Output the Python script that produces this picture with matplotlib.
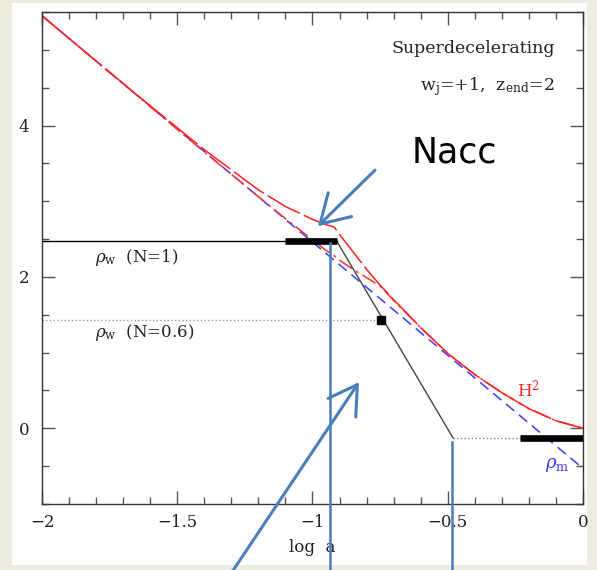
import matplotlib
matplotlib.use('Agg')
import matplotlib.pyplot as plt
from matplotlib.patches import Rectangle
from matplotlib.ticker import MultipleLocator

# H^2 for the two cases, sampled along log a
log_a = [-2.0, -1.8, -1.6, -1.4, -1.2, -1.1, -1.0, -0.95, -0.92, -0.9, -0.85,
         -0.8, -0.75, -0.7, -0.6, -0.5, -0.4, -0.3, -0.2, -0.1, 0.0]
h2_n1 = [5.45, 4.85, 4.26, 3.68, 3.15, 2.93, 2.76, 2.69, 2.66, 2.56, 2.33,
         2.10, 1.89, 1.70, 1.33, 0.99, 0.71, 0.47, 0.26, 0.10, 0.00]
h2_n06 = [5.45, 4.85, 4.25, 3.65, 3.06, 2.77, 2.49, 2.35, 2.28, 2.22, 2.10,
          1.99, 1.88, 1.69, 1.33, 0.99, 0.71, 0.47, 0.26, 0.10, 0.00]

# matter density
rho_m_x = [-2.0, 0.0]
rho_m_y = [5.45, -0.53]

# rho_w for N=1: flat, steep w=+1 decay, then flat again
rho_w1_x = [-2.0, -0.91, -0.48]
rho_w1_y = [2.47, 2.47, -0.13]
rho_w_late_x = [-0.48, 0.0]
rho_w_late_y = [-0.13, -0.13]

# rho_w for N=0.6
rho_w06_x = [-2.0, -0.745]
rho_w06_y = [1.43, 1.43]
nacc_06 = (-0.745, 1.43)

# thick bars
bar_early_x = [-1.10, -0.91]
bar_early_y = [2.47, 2.47]
bar_late_x = [-0.233, 0.0]
bar_late_y = [-0.13, -0.13]

# overlay markers
vline_x = [-0.935, -0.484]
vline_top = [2.45, -0.18]
vline_bottom = -1.9
arrow_nacc = ((-0.98, 2.67), (-0.769, 3.41))   # (head, tail)
arrow_low = ((-0.828, 0.61), (-1.298, -1.9))

plt.rcParams['mathtext.fontset'] = 'dejavuserif'
serif = 'DejaVu Serif'
ann_blue = '#4A7EBB'

fig = plt.figure(figsize=(5.97, 5.70), dpi=100, facecolor='#EEEBE1')
fig.patches.append(Rectangle((0.0201, 0.0088), 0.9632, 0.9860,
                             transform=fig.transFigure, facecolor='white',
                             edgecolor='none', zorder=-5))
ax = fig.add_axes([0.0704, 0.1158, 0.9061, 0.8632])
ax.set_zorder(1)

ax.plot(rho_m_x, rho_m_y, color='#3B3BFF', lw=1.1, dashes=(7, 4))
ax.plot(log_a, h2_n06, color='#FF3030', lw=1.1, dashes=(10, 3, 2, 3))
ax.plot(log_a, h2_n1, color='#FF2020', lw=1.1, dashes=(24, 3))

ax.plot(rho_w1_x[:2], rho_w1_y[:2], color='black', lw=1.0)
ax.plot(rho_w1_x[1:], rho_w1_y[1:], color='#444444', lw=1.0)
ax.plot(rho_w_late_x, rho_w_late_y, color='#888888', lw=1.0, ls=':')
ax.plot(rho_w06_x, rho_w06_y, color='#999999', lw=1.0, ls=':')
ax.plot(*nacc_06, marker='s', color='black', ms=5.5)

ax.plot(bar_early_x, bar_early_y, color='black', lw=4.8, solid_capstyle='butt')
ax.plot(bar_late_x, bar_late_y, color='black', lw=4.8, solid_capstyle='butt')

# labels inside the panel
ax.text(-0.104, 5.02, 'Superdecelerating', ha='right', va='center',
        family=serif, fontsize=12.5, color='#222222')
ax.text(-0.104, 4.51, r'w$_{\rm j}$=+1,  z$_{\rm end}$=2', ha='right',
        va='center', family=serif, fontsize=12.5, color='#222222')
ax.text(-1.804, 2.26, r'$\rho_{\rm w}$  (N=1)', ha='left', va='center',
        family=serif, fontsize=12, color='#222222')
ax.text(-1.804, 1.26, r'$\rho_{\rm w}$  (N=0.6)', ha='left', va='center',
        family=serif, fontsize=12, color='#222222')
ax.text(-0.244, 0.51, r'H$^2$', ha='left', va='center', family=serif,
        fontsize=12, color='#FF2020')
ax.text(-0.14, -0.48, r'$\rho_{\rm m}$', ha='left', va='center',
        family=serif, fontsize=13, color='#3B3BFF')

# overlay annotation
ax.text(-0.632, 3.65, 'Nacc', ha='left', va='center', family='DejaVu Sans',
        fontsize=25, color='black')
for x, top in zip(vline_x, vline_top):
    ax.plot([x, x], [top, vline_bottom], color=ann_blue, lw=1.8,
            clip_on=False, zorder=5)
for head, tail in (arrow_nacc, arrow_low):
    ax.annotate('', xy=head, xytext=tail, annotation_clip=False,
                arrowprops=dict(arrowstyle='->,head_length=0.5,head_width=0.3',
                                color=ann_blue, lw=2.2, mutation_scale=40,
                                shrinkA=0, shrinkB=0),
                zorder=6)

ax.set_xlim(-2, 0)
ax.set_ylim(-1, 5.5)
ax.xaxis.set_major_locator(MultipleLocator(0.5))
ax.xaxis.set_minor_locator(MultipleLocator(0.1))
ax.yaxis.set_major_locator(MultipleLocator(2))
ax.yaxis.set_minor_locator(MultipleLocator(0.5))
ax.set_xticks([-2, -1.5, -1, -0.5, 0])
ax.set_xticklabels(['\u22122', '\u22121.5', '\u22121', '\u22120.5', '0'])
ax.set_yticks([0, 2, 4])
ax.set_yticklabels(['0', '2', '4'])
ax.tick_params(which='both', direction='in', top=True, right=True,
               color='#555555', width=1)
ax.tick_params(which='major', length=9.5)
ax.tick_params(which='minor', length=5)
ax.tick_params(axis='x', which='major', pad=7)
ax.tick_params(axis='y', which='major', pad=9)
for lab in ax.get_xticklabels() + ax.get_yticklabels():
    lab.set_family(serif)
    lab.set_fontsize(12)
    lab.set_color('#222222')
ax.set_xlabel('log  a', family=serif, fontsize=12, color='#222222',
              labelpad=6)
for sp in ax.spines.values():
    sp.set_color('#333333')
    sp.set_linewidth(1.0)

fig.savefig('out.png', dpi=100)
